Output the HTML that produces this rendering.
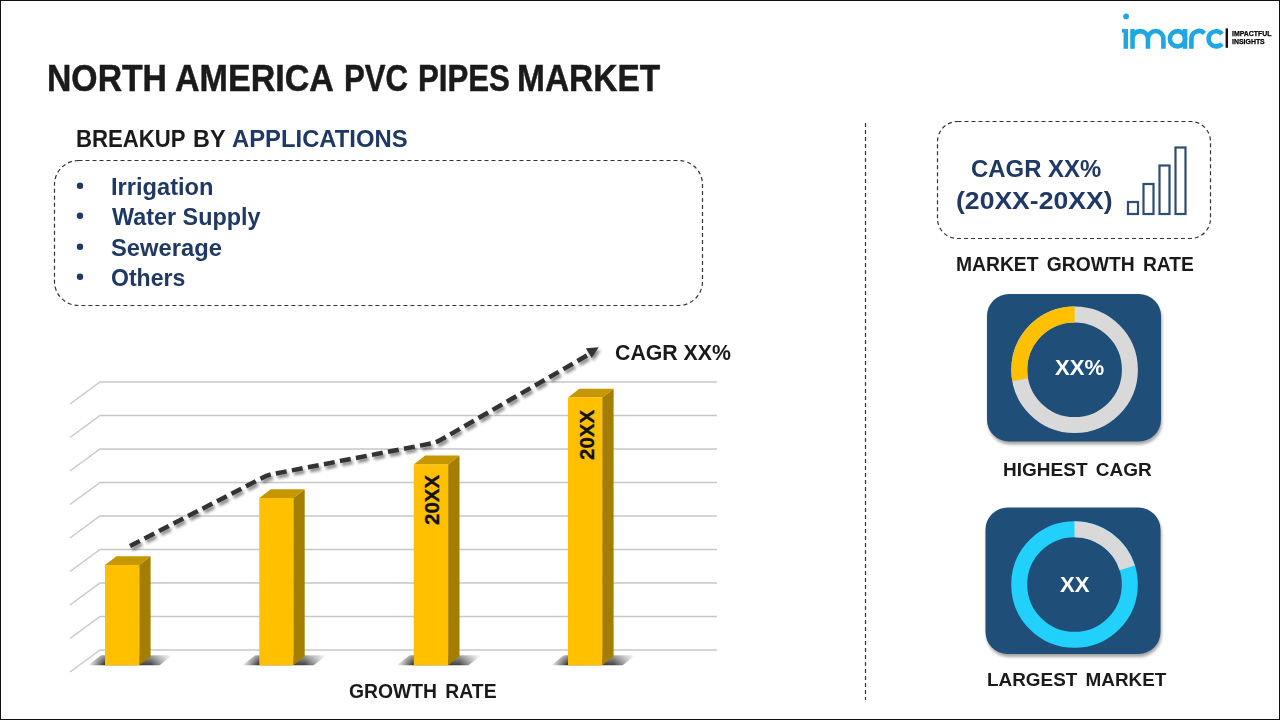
<!DOCTYPE html>
<html><head><meta charset="utf-8">
<style>
html,body{margin:0;padding:0;background:#fff;}
body{width:1280px;height:720px;position:relative;overflow:hidden;font-family:"Liberation Sans",sans-serif;font-weight:bold;}
.frame{position:absolute;left:0;top:0;width:1280px;height:720px;box-sizing:border-box;border:1px solid #111;}
.t{position:absolute;white-space:nowrap;line-height:1;transform-origin:0 0;}
svg{position:absolute;left:0;top:0;}
</style></head>
<body>
<svg width="1280" height="720" viewBox="0 0 1280 720">
  <defs>
    <filter id="cardsh" color-interpolation-filters="sRGB" x="-10%" y="-10%" width="120%" height="125%">
      <feGaussianBlur in="SourceAlpha" stdDeviation="1.8"/>
      <feOffset dx="1" dy="3"/>
      <feComponentTransfer><feFuncA type="linear" slope="0.35"/></feComponentTransfer>
      <feMerge><feMergeNode/><feMergeNode in="SourceGraphic"/></feMerge>
    </filter>
    <filter id="sh" color-interpolation-filters="sRGB" x="-20%" y="-20%" width="140%" height="140%">
      <feGaussianBlur in="SourceAlpha" stdDeviation="1.6"/>
      <feOffset dx="2" dy="3" result="b"/>
      <feComponentTransfer><feFuncA type="linear" slope="0.45"/></feComponentTransfer>
      <feMerge><feMergeNode/><feMergeNode in="SourceGraphic"/></feMerge>
    </filter>
  </defs>
  <!-- left dashed box -->
  <rect x="54.5" y="160.5" width="648" height="145" rx="24" ry="24" fill="none" stroke="#333" stroke-width="1.2" stroke-dasharray="4 3"/>
  <g fill="#1f3864"><circle cx="80" cy="185.8" r="3.2"/><circle cx="80" cy="215.8" r="3.2"/><circle cx="80" cy="246.8" r="3.2"/><circle cx="80" cy="276.7" r="3.2"/></g>
  <!-- divider -->
  <line x1="865.5" y1="123" x2="865.5" y2="700" stroke="#333" stroke-width="1.2" stroke-dasharray="4 3"/>
  <!-- cagr box -->
  <rect x="937.5" y="121.5" width="273" height="117" rx="20" ry="20" fill="none" stroke="#333" stroke-width="1.2" stroke-dasharray="4 3"/>
  <!-- grid -->
  <g stroke="#c8c8c8" stroke-width="1.5" fill="none">
    <polyline points="70,404 100,382 717,382"/>
    <polyline points="70,437.5 100,415.5 717,415.5"/>
    <polyline points="70,471 100,449 717,449"/>
    <polyline points="70,504.5 100,482.5 717,482.5"/>
    <polyline points="70,538 100,516 717,516"/>
    <polyline points="70,571.5 100,549.5 717,549.5"/>
    <polyline points="70,605 100,583 717,583"/>
    <polyline points="70,638.5 100,616.5 717,616.5"/>
    <polyline points="70,672 100,650 717,650"/>
  </g>

  <!-- bars -->
  <g id="bars">
<defs><linearGradient id="shgrad105" gradientUnits="userSpaceOnUse" x1="88" y1="0" x2="172.6" y2="0">
<stop offset="0" stop-color="#000" stop-opacity="0"/>
<stop offset="0.201" stop-color="#000" stop-opacity="0.85"/>
<stop offset="0.740" stop-color="#000" stop-opacity="0.75"/>
<stop offset="1" stop-color="#000" stop-opacity="0"/></linearGradient>
<linearGradient id="shgrad259" gradientUnits="userSpaceOnUse" x1="242.3" y1="0" x2="326.7" y2="0">
<stop offset="0" stop-color="#000" stop-opacity="0"/>
<stop offset="0.201" stop-color="#000" stop-opacity="0.85"/>
<stop offset="0.739" stop-color="#000" stop-opacity="0.75"/>
<stop offset="1" stop-color="#000" stop-opacity="0"/></linearGradient>
<linearGradient id="shgrad413" gradientUnits="userSpaceOnUse" x1="396.75" y1="0" x2="481.5" y2="0">
<stop offset="0" stop-color="#000" stop-opacity="0"/>
<stop offset="0.201" stop-color="#000" stop-opacity="0.85"/>
<stop offset="0.740" stop-color="#000" stop-opacity="0.75"/>
<stop offset="1" stop-color="#000" stop-opacity="0"/></linearGradient>
<linearGradient id="shgrad568" gradientUnits="userSpaceOnUse" x1="551" y1="0" x2="635.6" y2="0">
<stop offset="0" stop-color="#000" stop-opacity="0"/>
<stop offset="0.201" stop-color="#000" stop-opacity="0.85"/>
<stop offset="0.740" stop-color="#000" stop-opacity="0.75"/>
<stop offset="1" stop-color="#000" stop-opacity="0"/></linearGradient>
<linearGradient id="vmaskg" gradientUnits="userSpaceOnUse" x1="0" y1="655" x2="0" y2="665.3"><stop offset="0" stop-color="#fff" stop-opacity="0.45"/><stop offset="1" stop-color="#fff" stop-opacity="1"/></linearGradient>
<mask id="vmask" maskUnits="userSpaceOnUse" x="0" y="640" width="800" height="40"><rect x="0" y="640" width="800" height="40" fill="url(#vmaskg)"/></mask>
<filter id="blur2" color-interpolation-filters="sRGB" x="-20%" y="-50%" width="140%" height="200%"><feGaussianBlur stdDeviation="1.5"/></filter>
</defs>
<polygon points="88,665.3 101,655.3 172.6,655.3 159.6,665.3" fill="url(#shgrad105)" mask="url(#vmask)"/>
<polygon points="242.3,665.3 255.3,655.3 326.7,655.3 313.7,665.3" fill="url(#shgrad259)" mask="url(#vmask)"/>
<polygon points="396.75,665.3 409.75,655.3 481.5,655.3 468.5,665.3" fill="url(#shgrad413)" mask="url(#vmask)"/>
<polygon points="551,665.3 564,655.3 635.6,655.3 622.6,665.3" fill="url(#shgrad568)" mask="url(#vmask)"/>
<polygon points="139.2,565 150.6,556.2 150.6,656.5 139.2,665.3" fill="#a47e00"/>
<polygon points="105,565 116.4,556.2 150.6,556.2 139.2,565" fill="#c69700"/>
<rect x="105" y="565" width="34.19999999999999" height="100.29999999999995" fill="#ffc000"/>
<polygon points="293.3,498 304.7,489.2 304.7,656.5 293.3,665.3" fill="#a47e00"/>
<polygon points="259.3,498 270.7,489.2 304.7,489.2 293.3,498" fill="#c69700"/>
<rect x="259.3" y="498" width="34.0" height="167.29999999999995" fill="#ffc000"/>
<polygon points="448.1,464.4 459.5,455.59999999999997 459.5,656.5 448.1,665.3" fill="#a47e00"/>
<polygon points="413.75,464.4 425.15,455.59999999999997 459.5,455.59999999999997 448.1,464.4" fill="#c69700"/>
<rect x="413.75" y="464.4" width="34.35000000000002" height="200.89999999999998" fill="#ffc000"/>
<polygon points="602.2,397.5 613.6,388.7 613.6,656.5 602.2,665.3" fill="#a47e00"/>
<polygon points="568,397.5 579.4,388.7 613.6,388.7 602.2,397.5" fill="#c69700"/>
<rect x="568" y="397.5" width="34.200000000000045" height="267.79999999999995" fill="#ffc000"/>
<text transform="translate(439,525) rotate(-90)" font-size="20.5" font-family="Liberation Sans" font-weight="bold" fill="#111" stroke="#111" stroke-width="0.3">20XX</text>
<text transform="translate(594,460) rotate(-90)" font-size="20.5" font-family="Liberation Sans" font-weight="bold" fill="#111" stroke="#111" stroke-width="0.3">20XX</text>
<g filter="url(#sh)">
<path d="M130,546 L262,478 Q267.5,475 273,474 L431,443.5 Q436,442.5 440.5,440 L587,355.5" fill="none" stroke="#333" stroke-width="4.5" stroke-dasharray="11 5.31"/>
<polygon points="585.8,348.3 598.75,347.25 591.7,357.9" fill="#333"/>
</g>

    <!-- shadows -->
    <defs>
      <radialGradient id="shg" cx="0.5" cy="0.5" r="0.5">
        <stop offset="0" stop-color="#000" stop-opacity="0.75"/>
        <stop offset="1" stop-color="#000" stop-opacity="0"/>
      </radialGradient>
    </defs>
  </g>
  <!-- cagr bar icon -->
  <g fill="none" stroke="#2f4d6d" stroke-width="2.2">
    <rect x="1128" y="202" width="10" height="12"/>
    <rect x="1143.5" y="184" width="10" height="30"/>
    <rect x="1159.5" y="165.5" width="10" height="48.5"/>
    <rect x="1175.5" y="147.5" width="10" height="66.5"/>
  </g>
  <!-- cards -->
  <rect x="987" y="294" width="174" height="147.5" rx="22" ry="22" fill="#1f4e79" filter="url(#cardsh)"/>
  <rect x="985.5" y="507.5" width="175" height="146.5" rx="22" ry="22" fill="#1f4e79" filter="url(#cardsh)"/>
  <!-- donut 1 -->
  <circle cx="1074.6" cy="369.7" r="55.3" fill="none" stroke="#d9d9d9" stroke-width="16"/>
  <path d="M1074.6,314.4 A55.3,55.3 0 0 0 1020.23,379.78" fill="none" stroke="#ffc000" stroke-width="16"/>
  <!-- donut 2 -->
  <circle cx="1074.5" cy="584.5" r="55.3" fill="none" stroke="#22d1fb" stroke-width="16"/>
  <path d="M1074.5,529.2 A55.3,55.3 0 0 1 1127.24,567.87" fill="none" stroke="#d9d9d9" stroke-width="16"/>
  <!-- logo -->
  <g fill="#1ea7e1">
    <circle cx="1126.1" cy="16.4" r="2.9"/>
    <rect x="1123.55" y="29" width="4.5" height="19.8"/>
    <rect x="1122" y="29" width="2.5" height="3.6"/>
    <rect x="1130.3" y="29" width="4.5" height="19.8"/>
  </g>
  <g fill="none" stroke="#1ea7e1" stroke-width="4.6">
    <path d="M1132.55,38.75 A7.7,7.7 0 0 1 1147.95,38.75 V48.8 M1147.95,38.75 A7.72,7.72 0 0 1 1163.4,38.75 V48.8"/>
    <circle cx="1177.5" cy="38.8" r="7.65"/>
    <path d="M1185.05,29 V48.8"/>
    <path d="M1191.4,48.8 V38.75 A7.7,7.7 0 0 1 1204.54,33.3"/>
    <path d="M1222.0,33.9 A7.6,7.6 0 1 0 1222.0,43.7"/>
  </g>
  <rect x="1225.6" y="28.4" width="2.4" height="19.4" fill="#111"/>
</svg>
<div class="frame"></div>
<div class="t" id="tw1" style="left:47.4px;top:60px;font-size:37.5px;color:#1a1a1a;-webkit-text-stroke:0.5px #1a1a1a;transform:scaleX(0.9);">NORTH</div>
<div class="t" id="tw2" style="left:175.34px;top:60px;font-size:37.5px;color:#1a1a1a;-webkit-text-stroke:0.5px #1a1a1a;transform:scaleX(0.9078);">AMERICA</div>
<div class="t" id="tw3" style="left:344.14px;top:60px;font-size:37.5px;color:#1a1a1a;-webkit-text-stroke:0.5px #1a1a1a;transform:scaleX(0.8311);">PVC</div>
<div class="t" id="tw4" style="left:417.64px;top:60px;font-size:37.5px;color:#1a1a1a;-webkit-text-stroke:0.5px #1a1a1a;transform:scaleX(0.8318);">PIPES</div>
<div class="t" id="tw5" style="left:517.41px;top:60px;font-size:37.5px;color:#1a1a1a;-webkit-text-stroke:0.5px #1a1a1a;transform:scaleX(0.893);">MARKET</div>
<div class="t" id="bw1" style="left:75.81px;top:128.1px;font-size:23.7px;color:#1a1a1a;transform:scaleX(0.9352);">BREAKUP</div>
<div class="t" id="bw2" style="left:193.31px;top:128.1px;font-size:23.7px;color:#1a1a1a;transform:scaleX(0.9871);">BY</div>
<div class="t" id="bw3" style="left:231.89px;top:128.1px;font-size:23.7px;color:#1f3864;transform:scaleX(1.0058);">APPLICATIONS</div>
<div class="t" id="irrig" style="left:110.53px;top:174.5px;font-size:24px;color:#1f3864;transform:scaleX(0.9851);">Irrigation</div>
<div class="t" id="water" style="left:112.0px;top:204.5px;font-size:24px;color:#1f3864;transform:scaleX(0.9737);">Water Supply</div>
<div class="t" id="sewer" style="left:111.01px;top:236.2px;font-size:24px;color:#1f3864;transform:scaleX(0.9891);">Sewerage</div>
<div class="t" id="others" style="left:111.04px;top:266.2px;font-size:24px;color:#1f3864;transform:scaleX(0.9605);">Others</div>
<div class="t" id="cagrchart" style="left:615.25px;top:342.4px;font-size:22.5px;color:#1a1a1a;transform:scaleX(0.9463);">CAGR XX%</div>
<div class="t" id="growth" style="left:348.73px;top:681px;font-size:20px;color:#1a1a1a;word-spacing:3px;transform:scaleX(0.9669);">GROWTH RATE</div>
<div class="t" id="cagrbox" style="left:971.02px;top:157.1px;font-size:24.5px;color:#1f3864;transform:scaleX(0.9758);">CAGR XX%</div>
<div class="t" id="yrs" style="left:955.92px;top:188.9px;font-size:24.5px;color:#1f3864;transform:scaleX(1.0845);">(20XX-20XX)</div>
<div class="t" id="mgr" style="left:955.94px;top:254.3px;font-size:20px;color:#1a1a1a;word-spacing:3px;transform:scaleX(0.9645);">MARKET GROWTH RATE</div>
<div class="t" id="hcagr" style="left:1002.6px;top:460px;font-size:19px;color:#1a1a1a;word-spacing:3px;transform:scaleX(1.0007);">HIGHEST CAGR</div>
<div class="t" id="lmkt" style="left:987.01px;top:670px;font-size:19px;color:#1a1a1a;word-spacing:3px;transform:scaleX(0.9944);">LARGEST MARKET</div>
<div class="t" id="xxp" style="left:1055.4px;top:357.4px;font-size:22px;color:#fff;transform:scaleX(1.0062);">XX%</div>
<div class="t" id="xx" style="left:1060.4px;top:574.2px;font-size:22px;color:#fff;transform:scaleX(1.0069);">XX</div>
<div class="t" id="impact" style="left:1231.5px;top:30.2px;font-size:7.2px;color:#000;-webkit-text-stroke:0.25px #000;transform:scaleX(0.9634);">IMPACTFUL</div>
<div class="t" id="insights" style="left:1231.7px;top:38.4px;font-size:7.2px;color:#000;-webkit-text-stroke:0.25px #000;transform:scaleX(0.9647);">INSIGHTS</div>
</body></html>
